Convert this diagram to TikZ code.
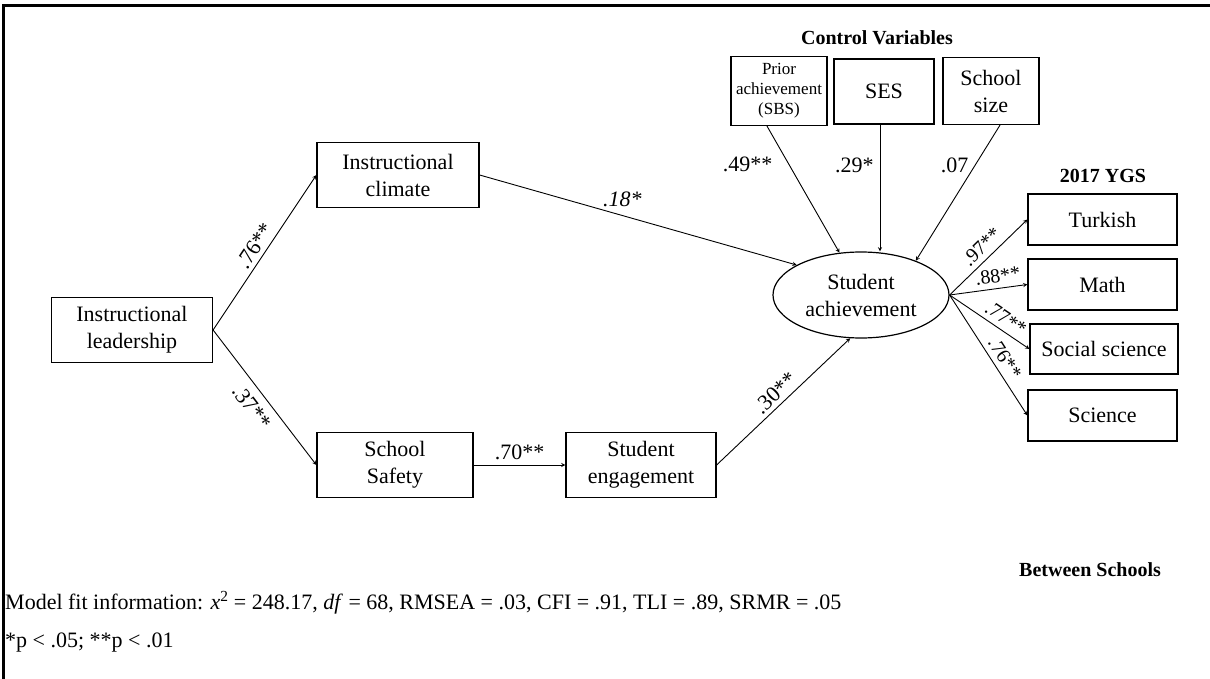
\documentclass[tikz,border=0pt]{standalone}
\usepackage{fontspec}
\setmainfont{Liberation Serif}
\usetikzlibrary{shapes.geometric, arrows}
\tikzstyle{box} = [rectangle, draw=black, line width=1.2pt, align=center, inner sep=2pt, font=\fontsize{22}{27}\selectfont]
\tikzstyle{ctrl} = [box, minimum width=96pt, minimum height=67pt]
\tikzstyle{ygs} = [box, minimum width=149pt, minimum height=51pt]
\tikzstyle{arrow} = [line width=0.9pt, ->, >=stealth]
\tikzstyle{coef} = [font=\fontsize{22}{26}\selectfont, inner sep=2pt]
\tikzstyle{load} = [font=\fontsize{20}{24}\selectfont, inner sep=2pt, sloped, above=3pt]
\tikzstyle{title} = [font=\fontsize{20}{24}\selectfont\bfseries]
\tikzstyle{note} = [font=\fontsize{22}{26}\selectfont, anchor=west, inner sep=0pt]

\begin{document}
\begin{tikzpicture}[x=1pt,y=-1pt]
\useasboundingbox (0,0) rectangle (1210,679);
\draw[line width=3pt] (3,679) -- (3,6) -- (1210,6);

% main path
\node[box, minimum width=161pt, minimum height=65pt] (lead) at (132,330) {Instructional\\leadership};
\node[box, minimum width=162pt, minimum height=65pt] (climate) at (398,175) {Instructional\\climate};
\node[box, minimum width=156pt, minimum height=65pt] (safety) at (395,465) {School\\Safety};
\node[box, minimum width=150pt, minimum height=65pt] (engage) at (641,465) {Student\\engagement};
\node[ellipse, draw=black, line width=1.2pt, align=center, inner xsep=-4pt, inner ysep=2pt,
  minimum width=176pt, minimum height=86pt, font=\fontsize{22}{27}\selectfont] (achieve) at (861,295) {Student\\achievement};

% control variables
\node[title] (ctrltitle) at (877,38) {Control Variables};
\node[ctrl, font=\fontsize{17}{20}\selectfont, minimum height=69pt] (prior) at (779,91) {Prior\\achievement\\(SBS)};
\node[ctrl, minimum width=100pt, minimum height=65pt] (ses) at (884,91.5) {SES};
\node[ctrl] (size) at (991,91) {School\\size};

% outcomes
\node[title] (ygstitle) at (1103,176) {2017 YGS};
\node[ygs] (turk) at (1102.5,219.5) {Turkish};
\node[ygs] (math) at (1102.5,284.5) {Math};
\node[ygs, minimum width=148pt, minimum height=50pt] (social) at (1104,349) {Social science};
\node[ygs] (sci) at (1102.5,415.5) {Science};

\draw[arrow] (lead.east) -- node[coef, sloped, above=2pt] {.76**} (climate.west);
\draw[arrow] (lead.east) -- node[coef, sloped, below=6pt] {.37**} (safety.west);
\draw[arrow] (climate.east) -- node[coef, pos=0.45, above=6pt] {\textit{.18*}} (achieve.155);
\draw[arrow] (safety.east) -- node[coef, above=3pt] {.70**} (engage.west);
\draw[arrow] (engage.east) -- node[coef, sloped, above=2pt] {.30**} (achieve.256);

\draw[arrow] ([xshift=-12pt]prior.south) -- node[coef, pos=0.3, left=14pt] {.49**} (achieve.117);
\draw[arrow] ([xshift=-4pt]ses.south) -- node[coef, pos=0.32, left=4pt] {.29*} ([xshift=-4pt]ses.south |- achieve.north);
\draw[arrow] ([xshift=9pt]size.south) -- node[coef, pos=0.3, left=4pt] {.07} (achieve.32);

\draw[arrow] (achieve.east) -- node[load, pos=0.52] {.97**} (turk.west);
\draw[arrow] (achieve.east) -- node[load, pos=0.64] {.88**} (math.west);
\draw[arrow] (achieve.east) -- node[load, pos=0.62] {.77**} (social.west);
\draw[arrow] (achieve.east) -- node[load, pos=0.58] {.76**} (sci.west);

\node[title] (level) at (1090,570) {Between Schools};
\node[note] (fit) at (5,603) {Model fit information: \textit{x}\textsuperscript{2} = 248.17, \textit{df} = 68, RMSEA = .03, CFI = .91, TLI = .89, SRMR = .05};
\node[note] (sig) at (5,643) {*p < .05; **p < .01};
\end{tikzpicture}
\end{document}
